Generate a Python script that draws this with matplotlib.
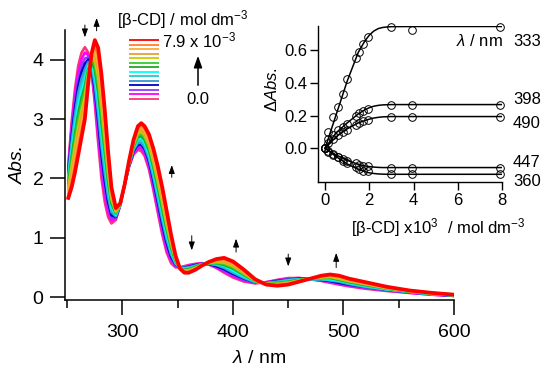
import numpy as np
import matplotlib
matplotlib.use("Agg")
import matplotlib.pyplot as plt
from matplotlib.patches import FancyArrowPatch

plt.rcParams['font.family'] = ['Liberation Sans', 'DejaVu Sans']
plt.rcParams['mathtext.fontset'] = 'custom'
plt.rcParams['mathtext.rm'] = 'Liberation Sans'
plt.rcParams['mathtext.it'] = 'Liberation Sans:italic'

# ---------------- main spectra data ----------------
wl = [251, 254, 257, 260, 263, 266, 269, 272, 275, 278, 281, 284, 287, 290, 294, 298, 302, 306, 310, 314,
      317, 320, 324, 328, 332, 336, 340, 344, 348, 352, 356, 360, 366, 372, 378, 385, 392, 400, 410, 420,
      430, 440, 450, 460, 470, 480, 488, 496, 505, 520, 540, 560, 580, 600]

abs_c00 = [2.22, 2.95, 3.50, 3.90, 4.12, 4.21, 4.12, 3.80, 3.25, 2.60, 2.00, 1.60, 1.35, 1.24, 1.30, 1.55, 1.90, 2.20, 2.40, 2.48,
           2.46, 2.38, 2.15, 1.80, 1.42, 1.05, 0.75, 0.57, 0.50, 0.50, 0.52, 0.54, 0.56, 0.57, 0.55, 0.49, 0.41, 0.33, 0.26, 0.23,
           0.25, 0.29, 0.32, 0.32, 0.30, 0.27, 0.24, 0.21, 0.18, 0.14, 0.10, 0.07, 0.04, 0.02]
abs_c01 = [2.18, 2.87, 3.39, 3.78, 4.01, 4.12, 4.08, 3.82, 3.33, 2.72, 2.13, 1.72, 1.43, 1.29, 1.32, 1.55, 1.90, 2.21, 2.42, 2.51,
           2.50, 2.42, 2.20, 1.85, 1.48, 1.11, 0.80, 0.61, 0.52, 0.50, 0.51, 0.53, 0.55, 0.57, 0.55, 0.50, 0.43, 0.35, 0.28, 0.24,
           0.25, 0.28, 0.31, 0.32, 0.30, 0.28, 0.25, 0.22, 0.19, 0.15, 0.11, 0.07, 0.04, 0.02]
abs_c02 = [2.14, 2.78, 3.28, 3.67, 3.90, 4.02, 4.04, 3.85, 3.42, 2.85, 2.27, 1.84, 1.52, 1.33, 1.33, 1.55, 1.90, 2.22, 2.44, 2.54,
           2.53, 2.46, 2.24, 1.91, 1.54, 1.17, 0.86, 0.64, 0.53, 0.50, 0.50, 0.52, 0.54, 0.56, 0.56, 0.51, 0.45, 0.37, 0.29, 0.24,
           0.24, 0.27, 0.30, 0.31, 0.30, 0.28, 0.26, 0.23, 0.20, 0.16, 0.11, 0.08, 0.05, 0.02]
abs_c03 = [2.09, 2.70, 3.18, 3.55, 3.79, 3.93, 4.00, 3.87, 3.50, 2.97, 2.40, 1.96, 1.60, 1.38, 1.35, 1.56, 1.90, 2.22, 2.46, 2.57,
           2.57, 2.50, 2.29, 1.96, 1.60, 1.23, 0.91, 0.68, 0.55, 0.50, 0.49, 0.51, 0.54, 0.56, 0.56, 0.52, 0.47, 0.39, 0.31, 0.25,
           0.24, 0.27, 0.29, 0.31, 0.30, 0.29, 0.27, 0.24, 0.21, 0.17, 0.12, 0.08, 0.05, 0.02]
abs_c04 = [2.05, 2.61, 3.07, 3.44, 3.68, 3.84, 3.96, 3.89, 3.58, 3.09, 2.54, 2.08, 1.69, 1.43, 1.36, 1.56, 1.90, 2.23, 2.48, 2.60,
           2.60, 2.53, 2.33, 2.02, 1.66, 1.30, 0.97, 0.72, 0.56, 0.50, 0.49, 0.50, 0.53, 0.56, 0.56, 0.54, 0.49, 0.41, 0.32, 0.25,
           0.24, 0.26, 0.29, 0.30, 0.30, 0.30, 0.28, 0.26, 0.22, 0.17, 0.12, 0.08, 0.05, 0.03]
abs_c05 = [2.01, 2.53, 2.96, 3.32, 3.57, 3.74, 3.92, 3.92, 3.67, 3.22, 2.67, 2.20, 1.77, 1.48, 1.38, 1.56, 1.90, 2.24, 2.50, 2.63,
           2.64, 2.57, 2.38, 2.07, 1.72, 1.36, 1.02, 0.76, 0.58, 0.49, 0.48, 0.49, 0.52, 0.55, 0.57, 0.55, 0.51, 0.43, 0.34, 0.26,
           0.23, 0.25, 0.28, 0.30, 0.30, 0.30, 0.29, 0.27, 0.23, 0.18, 0.13, 0.09, 0.05, 0.03]
abs_c06 = [1.97, 2.44, 2.85, 3.21, 3.47, 3.65, 3.88, 3.94, 3.75, 3.34, 2.81, 2.32, 1.86, 1.52, 1.39, 1.56, 1.90, 2.25, 2.52, 2.66,
           2.68, 2.61, 2.42, 2.12, 1.78, 1.42, 1.07, 0.79, 0.59, 0.49, 0.47, 0.48, 0.51, 0.55, 0.57, 0.56, 0.53, 0.45, 0.35, 0.26,
           0.23, 0.24, 0.27, 0.29, 0.30, 0.31, 0.30, 0.28, 0.24, 0.19, 0.13, 0.09, 0.05, 0.03]
abs_c07 = [1.92, 2.36, 2.75, 3.09, 3.36, 3.56, 3.84, 3.96, 3.83, 3.46, 2.94, 2.44, 1.94, 1.57, 1.41, 1.57, 1.90, 2.25, 2.53, 2.70,
           2.71, 2.65, 2.47, 2.18, 1.84, 1.48, 1.13, 0.83, 0.61, 0.49, 0.46, 0.47, 0.51, 0.55, 0.57, 0.57, 0.54, 0.48, 0.37, 0.27,
           0.23, 0.24, 0.26, 0.29, 0.31, 0.32, 0.32, 0.29, 0.25, 0.20, 0.14, 0.09, 0.06, 0.03]
abs_c08 = [1.88, 2.27, 2.64, 2.98, 3.25, 3.47, 3.80, 3.99, 3.92, 3.59, 3.08, 2.55, 2.03, 1.62, 1.42, 1.57, 1.90, 2.26, 2.55, 2.73,
           2.75, 2.69, 2.51, 2.23, 1.90, 1.54, 1.18, 0.87, 0.62, 0.49, 0.45, 0.46, 0.50, 0.55, 0.57, 0.58, 0.56, 0.50, 0.38, 0.27,
           0.23, 0.23, 0.25, 0.28, 0.31, 0.33, 0.33, 0.30, 0.26, 0.21, 0.14, 0.09, 0.06, 0.03]
abs_c09 = [1.84, 2.19, 2.53, 2.86, 3.14, 3.37, 3.76, 4.01, 4.00, 3.71, 3.21, 2.67, 2.11, 1.66, 1.44, 1.57, 1.90, 2.27, 2.57, 2.76,
           2.79, 2.73, 2.56, 2.28, 1.96, 1.60, 1.23, 0.90, 0.64, 0.49, 0.44, 0.45, 0.49, 0.54, 0.58, 0.59, 0.58, 0.52, 0.40, 0.28,
           0.22, 0.22, 0.24, 0.28, 0.31, 0.33, 0.34, 0.31, 0.27, 0.22, 0.15, 0.10, 0.06, 0.03]
abs_c10 = [1.80, 2.10, 2.42, 2.75, 3.03, 3.28, 3.72, 4.03, 4.08, 3.83, 3.35, 2.79, 2.20, 1.71, 1.45, 1.57, 1.90, 2.28, 2.59, 2.79,
           2.82, 2.76, 2.60, 2.34, 2.02, 1.67, 1.29, 0.94, 0.65, 0.48, 0.44, 0.44, 0.48, 0.54, 0.58, 0.61, 0.60, 0.54, 0.41, 0.28,
           0.22, 0.21, 0.24, 0.27, 0.31, 0.34, 0.35, 0.33, 0.28, 0.22, 0.15, 0.10, 0.06, 0.04]
abs_c11 = [1.75, 2.02, 2.32, 2.63, 2.92, 3.19, 3.68, 4.05, 4.16, 3.95, 3.48, 2.91, 2.28, 1.76, 1.47, 1.58, 1.90, 2.28, 2.61, 2.82,
           2.86, 2.80, 2.65, 2.39, 2.08, 1.73, 1.34, 0.98, 0.67, 0.48, 0.43, 0.43, 0.48, 0.54, 0.58, 0.62, 0.62, 0.56, 0.43, 0.29,
           0.22, 0.21, 0.23, 0.27, 0.31, 0.35, 0.36, 0.34, 0.29, 0.23, 0.16, 0.10, 0.07, 0.04]
abs_c12 = [1.71, 1.93, 2.21, 2.52, 2.81, 3.09, 3.64, 4.08, 4.25, 4.08, 3.62, 3.03, 2.37, 1.80, 1.48, 1.58, 1.90, 2.29, 2.63, 2.85,
           2.89, 2.84, 2.69, 2.45, 2.14, 1.79, 1.40, 1.01, 0.68, 0.48, 0.42, 0.42, 0.47, 0.53, 0.59, 0.63, 0.64, 0.58, 0.44, 0.29,
           0.21, 0.20, 0.22, 0.26, 0.31, 0.35, 0.37, 0.35, 0.30, 0.24, 0.16, 0.11, 0.07, 0.04]
abs_c13 = [1.67, 1.85, 2.10, 2.40, 2.70, 3.00, 3.60, 4.10, 4.33, 4.20, 3.75, 3.15, 2.45, 1.85, 1.50, 1.58, 1.90, 2.30, 2.65, 2.88,
           2.93, 2.88, 2.74, 2.50, 2.20, 1.85, 1.45, 1.05, 0.70, 0.48, 0.41, 0.41, 0.46, 0.53, 0.59, 0.64, 0.66, 0.60, 0.46, 0.30,
           0.21, 0.19, 0.21, 0.26, 0.31, 0.36, 0.38, 0.36, 0.31, 0.25, 0.17, 0.11, 0.07, 0.04]

spectra = [abs_c00, abs_c01, abs_c02, abs_c03, abs_c04, abs_c05, abs_c06,
           abs_c07, abs_c08, abs_c09, abs_c10, abs_c11, abs_c12, abs_c13]
colors = ['#ff3377', '#ff00ff', '#9933ff', '#0000cc', '#3399cc', '#22cccc', '#00ffff',
          '#22aa22', '#33cc33', '#cccc00', '#e8a030', '#ffaa33', '#ff7f27', '#ff0000']

legend_title = '[β-CD] / mol dm$^{-3}$'
legend_top = '7.9 x 10$^{-3}$'
legend_bottom = '0.0'

# arrows marking change direction: (wavelength, start, end)
arrow_x = [266, 276.6, 344.6, 362.7, 402.8, 450, 493.4]
arrow_y0 = [4.63, 4.44, 1.97, 1.08, 0.71, 0.77, 0.45]
arrow_y1 = [4.33, 4.75, 2.27, 0.74, 1.03, 0.47, 0.79]

# ---------------- inset data ----------------
conc = [0, 0.15, 0.36, 0.57, 0.8, 0.99, 1.38, 1.55, 1.72, 1.93, 2.98, 3.95, 7.9]
d333 = [0, 0.10, 0.19, 0.25, 0.33, 0.42, 0.55, 0.59, 0.635, 0.68, 0.742, 0.72, 0.742]
d398 = [0, 0.06, 0.08, 0.11, 0.13, 0.15, 0.20, 0.215, 0.23, 0.24, 0.267, 0.267, 0.267]
d490 = [0, 0.03, 0.055, 0.08, 0.10, 0.115, 0.145, 0.155, 0.165, 0.175, 0.194, 0.194, 0.194]
d447 = [0, -0.015, -0.035, -0.05, -0.065, -0.075, -0.09, -0.10, -0.105, -0.11, -0.117, -0.117, -0.117]
d360 = [0, -0.02, -0.04, -0.055, -0.075, -0.09, -0.115, -0.125, -0.135, -0.14, -0.158, -0.158, -0.158]
fitx = [0, 0.5, 1.0, 1.5, 1.8, 2.0, 2.2, 2.4, 2.6, 2.8, 3.0, 4.0, 8.0]
f333 = [0, 0.205, 0.41, 0.585, 0.655, 0.69, 0.715, 0.73, 0.737, 0.74, 0.742, 0.743, 0.743]
f398 = [0, 0.095, 0.155, 0.21, 0.235, 0.248, 0.257, 0.262, 0.265, 0.266, 0.267, 0.267, 0.267]
f490 = [0, 0.07, 0.12, 0.155, 0.17, 0.178, 0.185, 0.189, 0.192, 0.193, 0.194, 0.194, 0.194]
f447 = [0, -0.04, -0.073, -0.097, -0.107, -0.111, -0.114, -0.116, -0.117, -0.117, -0.117, -0.117, -0.117]
f360 = [0, -0.05, -0.095, -0.128, -0.142, -0.149, -0.153, -0.156, -0.157, -0.158, -0.158, -0.158, -0.158]
inset_labels = ['333', '398', '490', '447', '360']

# ---------------- figure ----------------
fig = plt.figure(figsize=(5.5, 3.71), dpi=100)
ax = fig.add_axes([65/550, 1-300/371, (454-65)/550, 270/371])
for s, c in zip(spectra, colors):
    ax.plot(wl, s, color=c, lw=2.7 if c == '#ff0000' else 1.9)
ax.set_xlim(248, 600)
ax.set_ylim(-0.05, 4.5)
for sp in ['top', 'right']:
    ax.spines[sp].set_visible(False)
for sp in ['left', 'bottom']:
    ax.spines[sp].set_linewidth(1.1)
ax.set_xticks([300, 400, 500, 600])
ax.set_xticks([250, 350, 450, 550], minor=True)
ax.set_yticks([0, 1, 2, 3, 4])
ax.tick_params(axis='both', which='major', length=10.5, width=1.1, labelsize=14, direction='out')
ax.tick_params(axis='x', which='major', pad=7)
ax.tick_params(axis='y', which='major', pad=5)
ax.tick_params(axis='x', which='minor', length=5.5, width=1.1)
ax.set_xlabel(r'$\lambda$ / nm', fontsize=14, labelpad=6)
fig.text(18/550, 1-165/371, 'Abs.', fontsize=14, style='italic', rotation=90, ha='center', va='center')

for x, y0, y1 in zip(arrow_x, arrow_y0, arrow_y1):
    ax.annotate('', xy=(x, y1), xytext=(x, y0), annotation_clip=False,
                arrowprops=dict(arrowstyle='-|>,head_length=0.5,head_width=0.18', lw=0.7, color='black'))

# legend swatches
lax = fig.add_axes([129/550, 1-99/371, 30/550, 59/371])
for i, c in enumerate(colors):
    lax.plot([0, 1], [i, i], color=c, lw=1.3, clip_on=False, solid_capstyle='butt')
lax.set_xlim(0, 1)
lax.set_ylim(0, len(colors) - 1)
lax.axis('off')
fig.text(117/550, 1-20/371, legend_title, fontsize=12, ha='left', va='center')
fig.text(162/550, 1-40/371, legend_top, fontsize=12, ha='left', va='center')
fig.text(198/550, 1-100/371, legend_bottom, fontsize=12, ha='center', va='center')
fig.add_artist(FancyArrowPatch((198/550, 1-88/371), (198/550, 1-53/371), transform=fig.transFigure,
                               arrowstyle='-|>,head_length=0.7,head_width=0.25', lw=1.1,
                               color='black', mutation_scale=10))

# inset
iax = fig.add_axes([318/550, 1-182/371, (502-318)/550, 156/371])
for fy, dy in [(f333, d333), (f398, d398), (f490, d490), (f447, d447), (f360, d360)]:
    iax.plot(fitx, fy, color='black', lw=1.1, zorder=2)
    iax.plot(conc, dy, 'o', mfc='none', mec='black', mew=0.7, ms=5.5, clip_on=False, zorder=3)
iax.set_xlim(-0.32, 8.0)
iax.set_ylim(-0.205, 0.746)
for sp in ['top', 'right']:
    iax.spines[sp].set_visible(False)
for sp in ['left', 'bottom']:
    iax.spines[sp].set_linewidth(1.0)
iax.set_xticks([0, 2, 4, 6, 8])
iax.set_yticks([0.0, 0.2, 0.4, 0.6])
iax.set_yticklabels(['0.0', '0.2', '0.4', '0.6'])
iax.tick_params(axis='both', length=6, width=1.0, labelsize=12)
iax.tick_params(axis='y', pad=1.5)
iax.tick_params(axis='x', pad=2)
fig.text(438/550, 1-228/371, '[β-CD] x10$^{3}$  / mol dm$^{-3}$', fontsize=12, ha='center', va='center')
fig.text(272/550, 1-90/371, r'Δ$\mathit{Abs.}$', fontsize=12, rotation=90, ha='center', va='center')
fig.text(503/550, 1-41/371, r'$\lambda$ / nm', fontsize=12, ha='right', va='center')
for lab, y in zip(inset_labels, [41, 99, 123, 162, 182]):
    fig.text(513/550, 1-y/371, lab, fontsize=12, ha='left', va='center')

fig.savefig('out.png', dpi=100)
